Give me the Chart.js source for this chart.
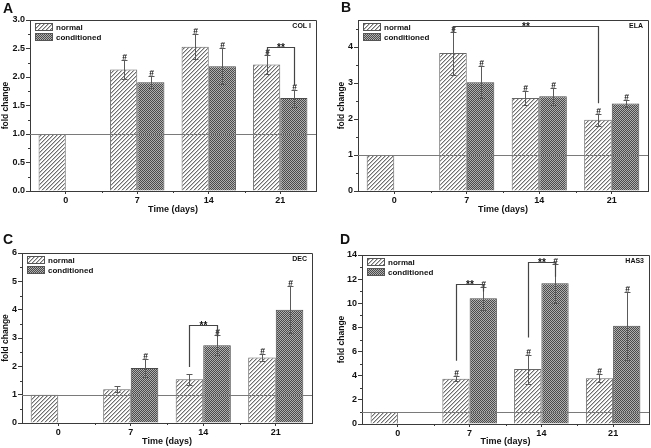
<!DOCTYPE html>
<html><head><meta charset="utf-8">
<script src="https://cdn.jsdelivr.net/npm/chart.js@4.4.1/dist/chart.umd.min.js"></script>
<style>
html,body{margin:0;padding:0;background:#fff;}
#wrap{position:relative;width:651px;height:448px;overflow:hidden;background:#fff;}
canvas{position:absolute;}
</style></head><body><div id="wrap">
<canvas id="cA" width="325" height="215" style="left:0;top:0"></canvas>
<canvas id="cB" width="326" height="215" style="left:325px;top:0"></canvas>
<canvas id="cC" width="325" height="233" style="left:0;top:215px"></canvas>
<canvas id="cD" width="326" height="233" style="left:325px;top:215px"></canvas>
</div>
<script>
// ---------- data ----------
const categories = ['0', '7', '14', '21'];
const seriesNames = ['normal', 'conditioned'];
const xTitle = 'Time (days)';
const yTitle = 'fold change';

// Panel A — COL I
const colI_normal     = [1.00, 2.13, 2.53, 2.22];
const colI_normalErr  = [0, 0.16, 0.22, 0.16];
const colI_cond       = [null, 1.91, 2.19, 1.63];
const colI_condErr    = [0, 0.10, 0.32, 0.15];
const colI_normalSig  = [false, true, true, true];
const colI_condSig    = [false, true, true, true];
const colI_brackets   = [[3, 0, 3, 1, 2.53, 2.38, 1.85]]; // cat1, ds1, cat2, ds2, top, leftEnd, rightEnd
const colI_yTickLabels = ['0.0', '0.5', '1.0', '1.5', '2.0', '2.5', '3.0'];

// Panel B — ELA
const ela_normal     = [1.00, 3.83, 2.58, 1.98];
const ela_normalErr  = [0, 0.60, 0.20, 0.17];
const ela_cond       = [null, 3.02, 2.63, 2.43];
const ela_condErr    = [0, 0.44, 0.23, 0.10];
const ela_normalSig  = [false, true, true, true];
const ela_condSig    = [false, true, true, true];
const ela_brackets   = [[1, 0, 3, 0, 4.58, 4.40, 2.44]];
const ela_yTickLabels = ['0', '1', '2', '3', '4'];

// Panel C — DEC
const dec_normal     = [1.00, 1.19, 1.54, 2.31];
const dec_normalErr  = [0, 0.10, 0.19, 0.11];
const dec_cond       = [null, 1.94, 2.74, 4.00];
const dec_condErr    = [0, 0.31, 0.35, 0.82];
const dec_normalSig  = [false, false, false, true];
const dec_condSig    = [false, true, true, true];
const dec_brackets   = [[2, 0, 2, 1, 3.45, 1.98, 3.04]];
const dec_yTickLabels = ['0', '1', '2', '3', '4', '5', '6'];

// Panel D — HAS3
const has3_normal     = [1.00, 3.75, 4.55, 3.80];
const has3_normalErr  = [0, 0.20, 1.20, 0.35];
const has3_cond       = [null, 10.42, 11.66, 8.13];
const has3_condErr    = [0, 0.96, 1.60, 2.80];
const has3_normalSig  = [false, true, true, true];
const has3_condSig    = [false, true, true, true];
const has3_brackets   = [[1, 0, 1, 1, 11.57, 5.24, 10.97], [2, 0, 2, 1, 13.45, 7.16, 12.2]];
const has3_yTickLabels = ['0', '2', '4', '6', '8', '10', '12', '14'];

// ---------- drawing helpers ----------
const FAM = '"Liberation Sans", Arial, Helvetica, sans-serif';
const TXT = '#111';
const AX = '#3a3a3a';

function makeHatch(ctx) {
  const c = document.createElement('canvas'); c.width = 4; c.height = 4;
  const g = c.getContext('2d'); const img = g.createImageData(4, 4);
  for (let y = 0; y < 4; y++) for (let x = 0; x < 4; x++) {
    const k = (x + y) % 4; let v = 255;
    if (k === 3) v = 110; else if (k === 0) v = 195;
    const i = (y * 4 + x) * 4;
    img.data[i] = img.data[i + 1] = img.data[i + 2] = v; img.data[i + 3] = 255;
  }
  g.putImageData(img, 0, 0);
  return ctx.createPattern(c, 'repeat');
}
function makeChecker(ctx) {
  const c = document.createElement('canvas'); c.width = 2; c.height = 2;
  const g = c.getContext('2d'); const img = g.createImageData(2, 2);
  for (let y = 0; y < 2; y++) for (let x = 0; x < 2; x++) {
    const v = ((x + y) % 2 === 0) ? 75 : 175;
    const i = (y * 2 + x) * 4;
    img.data[i] = img.data[i + 1] = img.data[i + 2] = v; img.data[i + 3] = 255;
  }
  g.putImageData(img, 0, 0);
  return ctx.createPattern(c, 'repeat');
}

function buildPanel(id, p) {
  const canvas = document.getElementById(id);
  const ctx = canvas.getContext('2d');
  const hatch = makeHatch(ctx), checker = makeChecker(ctx);
  const yVals = p.yTickLabels.map(Number);
  const series = [[p.normal, p.normalErr, p.normalSig], [p.cond, p.condErr, p.condSig]];

  const decor = {
    id: 'decor' + id,
    afterDatasetsDraw(chart) {
      const c = chart.ctx, ys = chart.scales.y, ca = chart.chartArea;
      c.save();
      // reference line at 1
      const y1 = Math.round(ys.getPixelForValue(1)) + 0.5;
      c.strokeStyle = '#7a7a7a'; c.lineWidth = 1;
      c.beginPath(); c.moveTo(ca.left, y1); c.lineTo(ca.right, y1); c.stroke();
      // error bars and #
      c.font = 'bold 8.5px ' + FAM; c.textAlign = 'center'; c.textBaseline = 'alphabetic';
      series.forEach((s, di) => {
        const meta = chart.getDatasetMeta(di);
        s[0].forEach((v, i) => {
          if (v == null) return;
          const bar = meta.data[i]; const x = Math.round(bar.x) + 0.5;
          const e = s[1][i];
          const yt = Math.round(ys.getPixelForValue(v + e)) + 0.5;
          const yb = Math.round(ys.getPixelForValue(v - e)) + 0.5;
          if (e > 0) {
            c.strokeStyle = '#5a5a5a'; c.lineWidth = 1;
            c.beginPath();
            c.moveTo(x, yt); c.lineTo(x, yb);
            c.moveTo(x - 3, yt); c.lineTo(x + 3, yt);
            c.moveTo(x - 3, yb); c.lineTo(x + 3, yb);
            c.stroke();
          }
          if (s[2][i]) { c.fillStyle = TXT; c.fillText('#', x, yt - 1); }
        });
      });
      // significance brackets
      p.brackets.forEach(b => {
        const x1 = Math.round(chart.getDatasetMeta(b[1]).data[b[0]].x) + 0.5;
        const x2 = Math.round(chart.getDatasetMeta(b[3]).data[b[2]].x) + 0.5;
        const yT = Math.round(ys.getPixelForValue(b[4])) + 0.5;
        c.strokeStyle = '#444'; c.lineWidth = 1.2;
        c.beginPath();
        c.moveTo(x1, ys.getPixelForValue(b[5])); c.lineTo(x1, yT);
        c.lineTo(x2, yT); c.lineTo(x2, ys.getPixelForValue(b[6]));
        c.stroke();
        c.fillStyle = TXT; c.font = 'bold 10px ' + FAM; c.textAlign = 'center';
        c.fillText('**', (x1 + x2) / 2, yT + 3.5);
      });
      c.restore();
    },
    afterDraw(chart) {
      const c = chart.ctx, ca = chart.chartArea, ys = chart.scales.y;
      c.save();
      // frame top & right
      c.strokeStyle = AX; c.lineWidth = 1;
      c.beginPath();
      c.moveTo(ca.left, Math.round(ca.top) + 0.5); c.lineTo(Math.round(ca.right) + 0.5, Math.round(ca.top) + 0.5);
      c.lineTo(Math.round(ca.right) + 0.5, ca.bottom);
      c.stroke();
      // minor y ticks
      c.beginPath();
      for (let v = p.minorStep; v < ys.max + 1e-9; v += p.minorStep) {
        if (yVals.some(m => Math.abs(m - v) < 1e-6)) continue;
        const y = Math.round(ys.getPixelForValue(v)) + 0.5;
        c.moveTo(ca.left - 2, y); c.lineTo(ca.left, y);
      }
      // minor x ticks at category boundaries
      const w = (ca.right - ca.left) / categories.length;
      for (let k = 1; k < categories.length; k++) {
        const x = Math.round(ca.left + k * w) + 0.5;
        c.moveTo(x, ca.bottom); c.lineTo(x, ca.bottom + 2);
      }
      c.stroke();
      // legend
      const lx = Math.round(ca.left + 5), ly = Math.round(ca.top + 3);
      [[hatch, seriesNames[0]], [checker, seriesNames[1]]].forEach((it, k) => {
        const by = ly + k * 10;
        c.fillStyle = it[0]; c.fillRect(lx, by, 18, 8);
        c.strokeStyle = '#555'; c.lineWidth = 1; c.strokeRect(lx + 0.5, by + 0.5, 17, 7);
        c.fillStyle = TXT; c.font = 'bold 8px ' + FAM; c.textAlign = 'left'; c.textBaseline = 'middle';
        c.fillText(it[1], lx + 21, by + 4.5);
      });
      // gene label
      c.font = 'bold 7px ' + FAM; c.textAlign = 'right'; c.textBaseline = 'alphabetic';
      c.fillText(p.gene, ca.right - 5, ca.top + 8);
      // panel letter
      c.font = 'bold 14px ' + FAM; c.textAlign = 'left';
      c.fillText(p.letter, p.letterX, p.letterY);
      c.restore();
    }
  };

  return new Chart(ctx, {
    type: 'bar',
    data: {
      labels: categories,
      datasets: [
        { label: seriesNames[0], data: p.normal, backgroundColor: hatch, borderColor: '#666', borderWidth: 1, categoryPercentage: 0.76, barPercentage: 1 },
        { label: seriesNames[1], data: p.cond, backgroundColor: checker, borderColor: '#4a4a4a', borderWidth: 1, categoryPercentage: 0.76, barPercentage: 1 }
      ]
    },
    options: {
      responsive: false, animation: false, devicePixelRatio: 1,
      layout: { padding: { left: 0, right: p.padR, top: p.padT, bottom: 0 } },
      plugins: { legend: { display: false }, tooltip: { enabled: false } },
      scales: {
        x: {
          grid: { drawOnChartArea: false, offset: false, tickLength: 3, color: AX },
          border: { color: AX, width: 1 },
          ticks: { font: { family: FAM, size: 9, weight: 'bold' }, color: TXT, padding: 1, maxRotation: 0 },
          title: { display: true, text: xTitle, color: TXT, font: { family: FAM, size: 9, weight: 'bold', lineHeight: 1 }, padding: { top: 0, bottom: p.xTitlePad } },
          afterFit(s) { s.height = p.xH; }
        },
        y: {
          min: 0, max: p.yMax,
          afterBuildTicks(s) { s.ticks = yVals.map(v => ({ value: v })); },
          grid: { drawOnChartArea: false, tickLength: 4, color: AX },
          border: { color: AX, width: 1 },
          ticks: { font: { family: FAM, size: 9, weight: 'bold' }, color: TXT, padding: 1,
                   callback: (v, i) => p.yTickLabels[i] },
          title: { display: true, text: yTitle, color: TXT, font: { family: FAM, size: 8.5, weight: 'bold', lineHeight: 1 }, padding: { top: p.yTitlePad, bottom: 0 } },
          afterFit(s) { s.width = p.yW; }
        }
      }
    },
    plugins: [decor]
  });
}

buildPanel('cA', { normal: colI_normal, normalErr: colI_normalErr, cond: colI_cond, condErr: colI_condErr,
  normalSig: colI_normalSig, condSig: colI_condSig, brackets: colI_brackets, yTickLabels: colI_yTickLabels,
  yMax: 3.0, minorStep: 0.25, gene: 'COL I', letter: 'A', letterX: 3, letterY: 13,
  padR: 9, padT: 20, xH: 24, yW: 30, xTitlePad: 1, yTitlePad: 1.5 });
buildPanel('cB', { normal: ela_normal, normalErr: ela_normalErr, cond: ela_cond, condErr: ela_condErr,
  normalSig: ela_normalSig, condSig: ela_condSig, brackets: ela_brackets, yTickLabels: ela_yTickLabels,
  yMax: 4.75, minorStep: 0.5, gene: 'ELA', letter: 'B', letterX: 16, letterY: 12,
  padR: 3, padT: 20, xH: 24, yW: 33, xTitlePad: 1, yTitlePad: 12 });
buildPanel('cC', { normal: dec_normal, normalErr: dec_normalErr, cond: dec_cond, condErr: dec_condErr,
  normalSig: dec_normalSig, condSig: dec_condSig, brackets: dec_brackets, yTickLabels: dec_yTickLabels,
  yMax: 6, minorStep: 0.5, gene: 'DEC', letter: 'C', letterX: 3, letterY: 28.5,
  padR: 13, padT: 38, xH: 25, yW: 22, xTitlePad: 2, yTitlePad: 1 });
buildPanel('cD', { normal: has3_normal, normalErr: has3_normalErr, cond: has3_cond, condErr: has3_condErr,
  normalSig: has3_normalSig, condSig: has3_condSig, brackets: has3_brackets, yTickLabels: has3_yTickLabels,
  yMax: 14, minorStep: 1, gene: 'HAS3', letter: 'D', letterX: 15, letterY: 28.5,
  padR: 2, padT: 40, xH: 24, yW: 37, xTitlePad: 2, yTitlePad: 12 });
</script>
</body></html>
